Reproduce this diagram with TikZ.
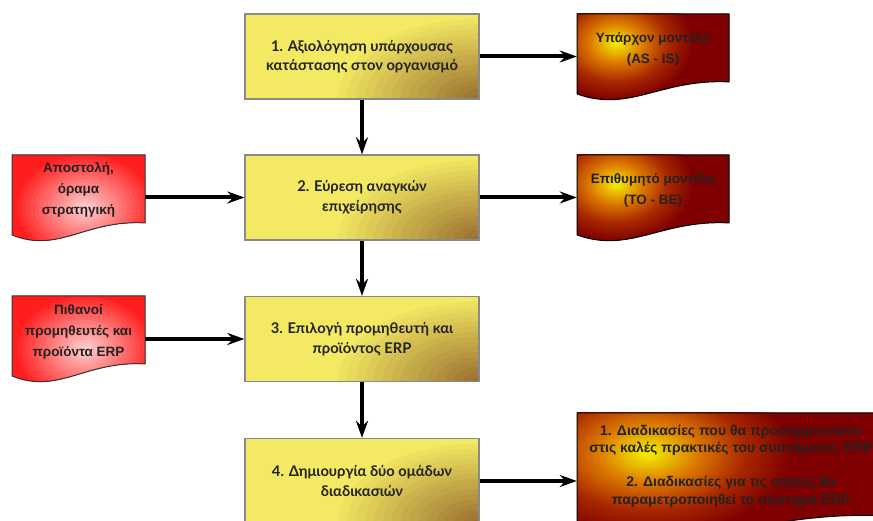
\documentclass[tikz,border=0pt]{standalone}
\usepackage{fontspec}
\setmainfont{Liberation Sans}
\newfontfamily\stepfont{Lato}
\usetikzlibrary{arrows.meta}

\definecolor{boxyellow}{HTML}{F3E963}
\definecolor{boxbrown}{HTML}{9A7030}
\definecolor{boxedge}{HTML}{8A8A8A}
\definecolor{glowyellow}{HTML}{F2E400}
\definecolor{gloworange}{HTML}{DC7800}
\definecolor{rustred}{HTML}{A82800}
\definecolor{deepred}{HTML}{7E0000}
\definecolor{palered}{HTML}{FFCDCD}
\definecolor{brightred}{HTML}{FF1E1E}
\definecolor{inktext}{HTML}{222222}

% soft elliptic glow built from nested ellipses:
% #1 centre, #2/#3 radii (pt), #4/#5 first and last radius fraction,
% #6 outer colour, #7 inner colour
\newcommand\glowrings[7]{%
  \foreach \k in {0,...,16}{%
    \pgfmathsetmacro\f{#4+(#5-#4)*\k/16}%
    \pgfmathsetmacro\p{100*\k/16}%
    \fill[#7!\p!#6] (#1) ellipse ({\f*#2pt} and {\f*#3pt});}}

% yellow core on dark red
\newcommand\modelglow[3]{%
  \glowrings{#1}{#2}{#3}{1}{0.68}{deepred}{rustred}%
  \glowrings{#1}{#2}{#3}{0.68}{0.36}{rustred}{gloworange}%
  \glowrings{#1}{#2}{#3}{0.36}{0.05}{gloworange}{glowyellow}}
% pale core on bright red
\newcommand\sourceglow[3]{%
  \glowrings{#1}{#2}{#3}{1}{0.05}{brightred}{palered}}
% brown corner of a process step
\newcommand\stepglow{%
  \glowrings{path picture bounding box.south east}{150}{85}{1}{0.05}{boxyellow}{boxbrown}}

% document with a wavy lower edge and an elliptic glow inside
% #1 style, #2 left, #3 top, #4 width, #5 height,
% #6/#7 glow centre (fractions of width/height from the top left), #8/#9 glow radii
\newcommand\docshape[9]{%
  \begin{scope}[shift={(#2,#3)}, x=#4pt, y=#5pt]
    \begin{scope}
      \clip (0,0) -- (1,0) -- (1,-0.79)
        .. controls (0.55,-0.75) and (0.35,-1.15) .. (0,-0.93) -- cycle;
      \fill[#1] (-0.1,0.1) rectangle (1.1,-1.2);
      \csname #1glow\endcsname{#6,-#7}{#8}{#9}
    \end{scope}
    \draw[#1 edge] (0,0) -- (1,0) -- (1,-0.79)
      .. controls (0.55,-0.75) and (0.35,-1.15) .. (0,-0.93) -- cycle;
  \end{scope}}

\tikzset{
  stepbox/.style={fill=boxyellow, draw=boxedge, line width=1.2pt,
    path picture={\stepglow},
    minimum width=234pt, minimum height=85pt, inner sep=0pt, align=center, text=inktext,
    font=\stepfont\bfseries\fontsize{14.7}{19.5}\selectfont},
  model/.style={fill=deepred},
  model edge/.style={draw=black, line width=1pt},
  source/.style={fill=brightred},
  source edge/.style={draw=black!80, line width=1pt},
  doctext/.style={inner sep=0pt, align=center, text=inktext,
    font=\bfseries\fontsize{13.5}{21}\selectfont},
  flow/.style={-{Stealth[length=17pt,width=12pt]}, line width=4pt, black},
}

\begin{document}
\begin{tikzpicture}[x=1pt, y=1pt]
\useasboundingbox (0,0) rectangle (873,521);
\clip (0,0) rectangle (873,521);
\fill[white] (0,0) rectangle (873,521);

% process steps
\node[stepbox] (b1) at (362,464.5) {1. Αξιολόγηση υπάρχουσας\\κατάστασης στον οργανισμό};
\node[stepbox] (b2) at (362,323.5) {2. Εύρεση αναγκών\\επιχείρησης};
\node[stepbox] (b3) at (362,182) {3. Επιλογή προμηθευτή και\\προϊόντος ERP};
\node[stepbox] (b4) at (362,40) {4. Δημιουργία δύο ομάδων\\διαδικασιών};

% documents
\docshape{model}{577}{507}{152}{86}{0.26}{0.34}{78}{58}
\docshape{model}{577}{366}{152}{86}{0.26}{0.34}{78}{58}
\docshape{model}{577}{108}{308}{130}{0.23}{0.31}{145}{85}
\docshape{source}{12}{366}{133}{86}{0.55}{0.62}{72}{56}
\docshape{source}{12}{225}{133}{86}{0.55}{0.62}{72}{56}

% document texts
\node[doctext, minimum width=152pt] (m1) at (653,472) {Υπάρχον μοντέλο\\(AS - IS)};
\node[doctext, minimum width=152pt] (m2) at (653,331) {Επιθυμητό μοντέλο\\(TO - BE)};
\node[doctext, minimum width=308pt, font=\bfseries\fontsize{14}{17.25}\selectfont] (m3) at (731,55)
  {1. Διαδικασίες που θα προσαρμοστούν\\στις καλές πρακτικές του συστήματος ERP\\[17.25pt]2. Διαδικασίες για τις οποίες θα\\παραμετροποιηθεί το σύστημα ERP};
\node[doctext, minimum width=133pt] (s1) at (78.5,331) {Αποστολή,\\όραμα\\στρατηγική};
\node[doctext, minimum width=133pt] (s2) at (78.5,189) {Πιθανοί\\προμηθευτές και\\προϊόντα ERP};

% connectors
\draw[flow] (b1) -- (b2);
\draw[flow] (b2) -- (b3);
\draw[flow] (b3) -- (b4);
\draw[flow] (b1.east) -- (b1.east -| m1.west);
\draw[flow] (b2.east) -- (b2.east -| m2.west);
\draw[flow] (b4.east) -- (b4.east -| m3.west);
\draw[flow] (s1.east |- b2.west) -- (b2.west);
\draw[flow] (s2.east |- b3.west) -- (b3.west);
\end{tikzpicture}
\end{document}
